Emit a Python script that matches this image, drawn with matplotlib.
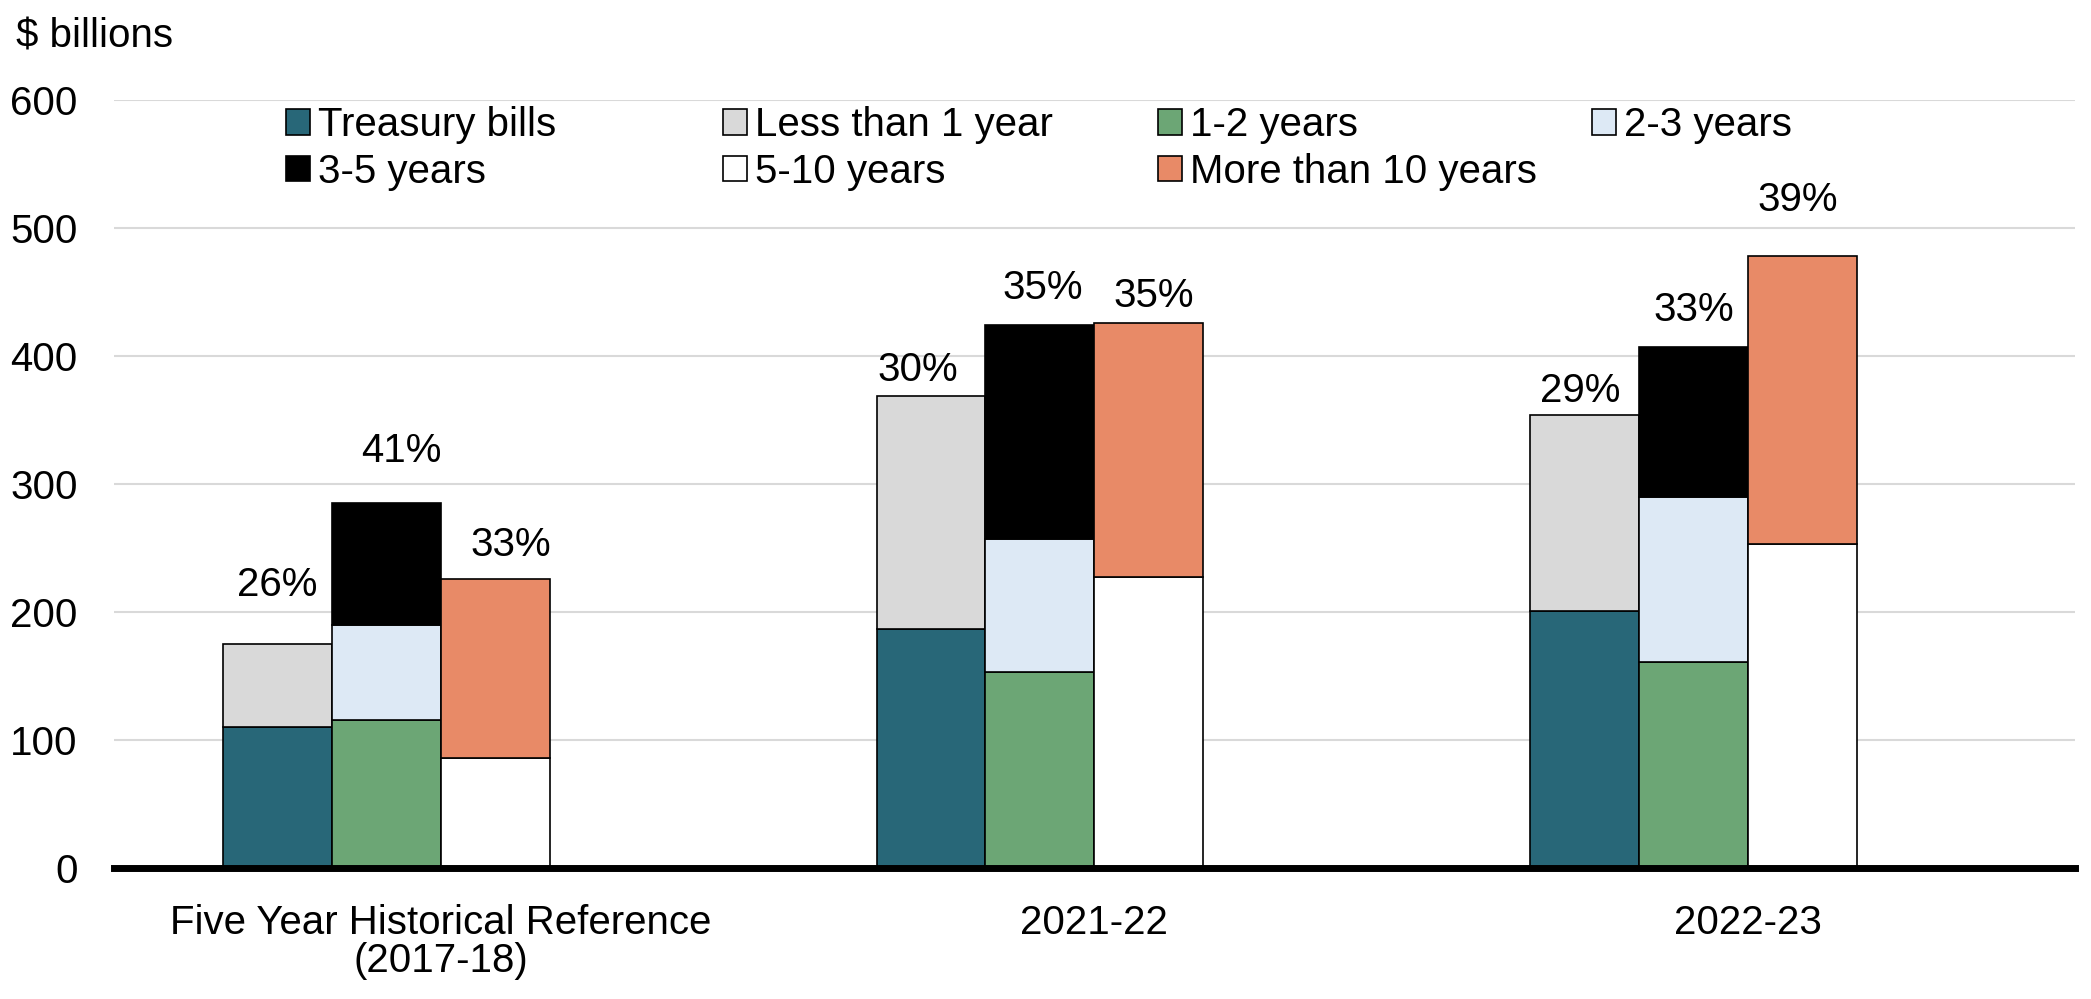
import matplotlib
matplotlib.use("Agg")
import matplotlib.pyplot as plt
from matplotlib.patches import Patch
import numpy as np

plt.rcParams['font.family'] = ['Liberation Sans', 'DejaVu Sans']

# data ($ billions)
categories = ['Five Year Historical Reference\n(2017-18)', '2021-22', '2022-23']
treasury_bills = [110, 187, 201]
less_than_1 = [65, 182, 153]
one_two = [116, 153, 161]
two_three = [74, 104, 129]
three_five = [95, 167, 117]
five_ten = [86, 227, 253]
more_than_10 = [140, 199, 225]
# share labels shown above each bar (short / medium / long)
pct_labels = [['26%', '41%', '33%'],
              ['30%', '35%', '35%'],
              ['29%', '33%', '39%']]

# style
colors = {
    'Treasury bills': '#286778',
    'Less than 1 year': '#d9d9d9',
    '1-2 years': '#6ca675',
    '2-3 years': '#dde9f5',
    '3-5 years': '#000000',
    '5-10 years': '#ffffff',
    'More than 10 years': '#e88a67',
}
# label placement relative to bar top: vertical gap (data units), horizontal shift (px)
label_gap = [[46, 41, 26], [20, 29, 21], [19, 29, 44]]
label_dx = [[0, 15, 16], [-13, 3, 5], [-4, 0, -5]]
fs = 29

fig = plt.figure(figsize=(20.91, 9.99), dpi=100)
ax = fig.add_axes([0.0545, 0.131, 0.9378, 0.769])

x = np.arange(len(categories))
w = 0.1667
offs = [-1.5 * w, -0.5 * w, 0.5 * w]
ekw = dict(edgecolor='black', linewidth=1.2, width=w, zorder=3)

# bar 1: up to 1 year
ax.bar(x + offs[0], treasury_bills, color=colors['Treasury bills'], **ekw)
ax.bar(x + offs[0], less_than_1, bottom=treasury_bills, color=colors['Less than 1 year'], **ekw)
# bar 2: 1-5 years
b2 = np.array(one_two) + np.array(two_three)
ax.bar(x + offs[1], one_two, color=colors['1-2 years'], **ekw)
ax.bar(x + offs[1], two_three, bottom=one_two, color=colors['2-3 years'], **ekw)
ax.bar(x + offs[1], three_five, bottom=b2, color=colors['3-5 years'], **ekw)
# bar 3: more than 5 years
ax.bar(x + offs[2], five_ten, color=colors['5-10 years'], **ekw)
ax.bar(x + offs[2], more_than_10, bottom=five_ten, color=colors['More than 10 years'], **ekw)

tops = [np.array(treasury_bills) + np.array(less_than_1),
        b2 + np.array(three_five),
        np.array(five_ten) + np.array(more_than_10)]

for i in range(len(categories)):
    for j in range(3):
        ax.annotate(pct_labels[i][j], xy=(x[i] + offs[j], tops[j][i] + label_gap[i][j]),
                    xytext=(label_dx[i][j] * 0.72, 0), textcoords='offset points',
                    ha='center', va='center', fontsize=fs, zorder=4)

ax.set_xlim(-0.5, 2.5)
ax.set_ylim(0, 600)
ax.set_yticks(range(0, 601, 100))
ax.set_xticks(x)
ax.set_xticklabels(categories, linespacing=1.0)
ax.tick_params(axis='y', length=0, labelsize=fs, pad=26)
ax.tick_params(axis='x', length=0, labelsize=fs, pad=26)
ax.yaxis.grid(True, color='#d9d9d9', linewidth=1.5)
ax.set_axisbelow(True)
for s in ['top', 'right', 'left']:
    ax.spines[s].set_visible(False)
ax.spines['bottom'].set_linewidth(5)
ax.spines['bottom'].set_zorder(5)

fig.text(16 / 2091, 1 - 36 / 999, '$ billions', fontsize=fs, ha='left', va='center')

# legend: 4 columns, filled row by row
legend_cols = [['Treasury bills', '3-5 years'],
               ['Less than 1 year', '5-10 years'],
               ['1-2 years', 'More than 10 years'],
               ['2-3 years']]
col_x = [285.5, 722.5, 1158, 1592]
for names, cx in zip(legend_cols, col_x):
    handles = [Patch(facecolor=colors[n], edgecolor='black', linewidth=1.2) for n in names]
    fig.legend(handles, names, loc='upper left',
               bbox_to_anchor=(cx / 2091, 1 - 106 / 999),
               frameon=False, fontsize=fs, borderpad=0, borderaxespad=0,
               handlelength=0.6, handleheight=0.6, handletextpad=0.2,
               labelspacing=0.22)

fig.savefig('out.png', dpi=100)
